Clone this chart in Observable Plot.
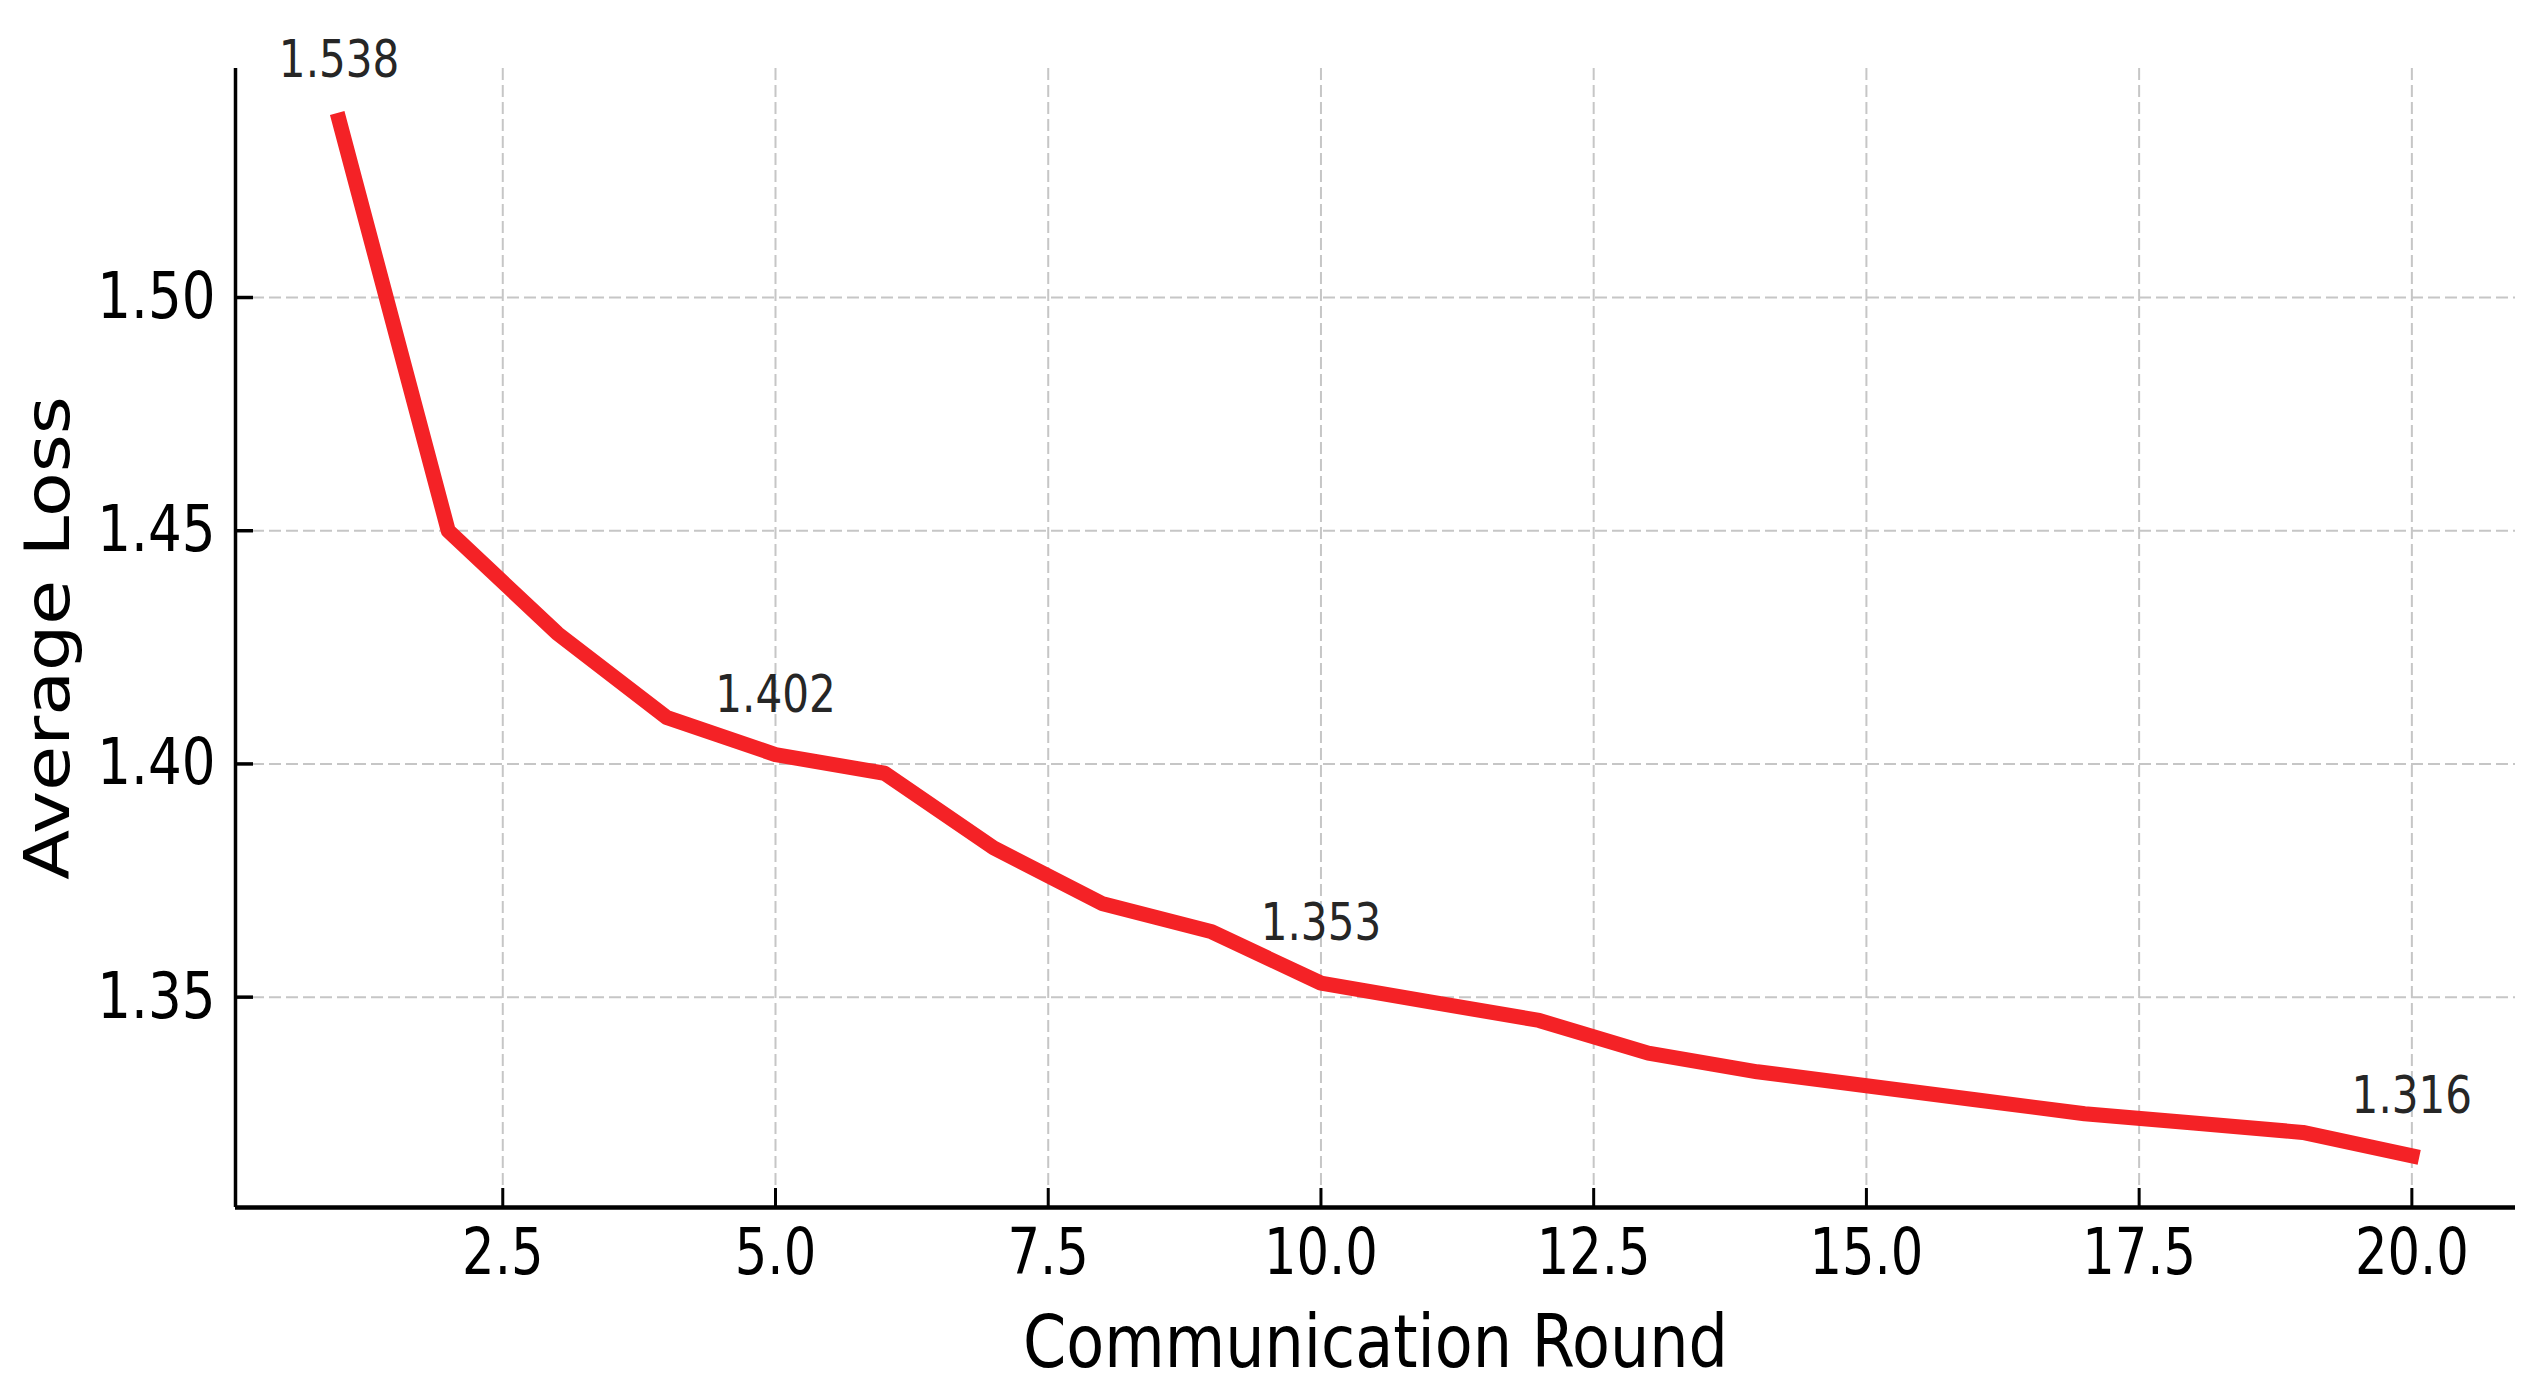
<!DOCTYPE html>
<html>
<head>
<meta charset="utf-8">
<script src="https://cdn.jsdelivr.net/npm/d3@7"></script>
<script src="https://cdn.jsdelivr.net/npm/@observablehq/plot@0.6"></script>
<style>
  html, body { margin: 0; padding: 0; background: #ffffff; }
  svg { display: block; }
</style>
</head>
<body>
<div id="chart"></div>
<script>
// ---- data ----
const rounds = [1, 2, 3, 4, 5, 6, 7, 8, 9, 10, 11, 12, 13, 14, 15, 16, 17, 18, 19, 20];
const avgLoss = [1.538, 1.450, 1.428, 1.410, 1.402, 1.398, 1.382, 1.370, 1.364, 1.353,
                 1.349, 1.345, 1.338, 1.334, 1.331, 1.328, 1.325, 1.323, 1.321, 1.316];
const annotatedRounds = [1, 5, 10, 20];
const xTicks = [2.5, 5.0, 7.5, 10.0, 12.5, 15.0, 17.5, 20.0];
const yTicks = [1.35, 1.40, 1.45, 1.50];
const xLabel = "Communication Round";
const yLabel = "Average Loss";

// ---- build ----
const data = rounds.map((r, i) => ({round: r, loss: avgLoss[i]}));
const annotations = data.filter(d => annotatedRounds.includes(d.round));
const pad = (a, b) => [a - (b - a) * 0.05, b + (b - a) * 0.05];
const xDomain = pad(d3.min(rounds), d3.max(rounds));
const yDomain = pad(d3.min(avgLoss), d3.max(avgLoss));

const W = 2544, H = 1388;
const mL = 235, mR = 29, mT = 68, mB = 181;
const plotW = W - mL - mR, plotH = H - mT - mB;
const gridStyle = {stroke: "#c6c6c6", strokeOpacity: 1, strokeWidth: 2, strokeDasharray: "12,5"};

const chart = Plot.plot({
  width: W, height: H,
  marginLeft: mL, marginRight: mR, marginTop: mT, marginBottom: mB,
  style: {fontFamily: "'DejaVu Sans', sans-serif", background: "#ffffff", color: "#000000", overflow: "visible"},
  x: {domain: xDomain},
  y: {domain: yDomain},
  marks: [
    Plot.gridX(xTicks, gridStyle),
    Plot.gridY(yTicks, gridStyle),
    Plot.line(data, {x: "round", y: "loss", stroke: "#f42226", strokeWidth: 15,
                     strokeLinejoin: "round", strokeLinecap: "square"}),
    Plot.text(annotations, {x: "round", y: "loss", text: d => d.loss.toFixed(3), dy: -43,
                            lineAnchor: "bottom", fontSize: 52, fill: "#262626"}),
    Plot.ruleX([xDomain[0]], {stroke: "#000000", strokeWidth: 3.5}),
    Plot.ruleY([yDomain[0]], {stroke: "#000000", strokeWidth: 4.5}),
    Plot.tickX(xTicks, {x: d => d, stroke: "#000000", strokeWidth: 3, insetTop: plotH - 19}),
    Plot.tickY(yTicks, {y: d => d, stroke: "#000000", strokeWidth: 3.5, insetRight: plotW - 18}),
    Plot.axisX(xTicks, {tickSize: 0, tickPadding: 21, fontSize: 64, tickFormat: d => d.toFixed(1), label: null}),
    Plot.axisY(yTicks, {tickSize: 0, tickPadding: 20, fontSize: 64, tickFormat: d => d.toFixed(2), label: null}),
    Plot.text([xLabel], {frameAnchor: "bottom", text: d => d, dy: 159, lineAnchor: "bottom",
                         textAnchor: "middle", fontSize: 73, fill: "#000000"}),
    Plot.text([yLabel], {frameAnchor: "left", text: d => d, dx: -167, rotate: -90, lineAnchor: "bottom",
                         textAnchor: "middle", fontSize: 63, fill: "#000000"})
  ]
});

document.getElementById("chart").appendChild(chart);

// horizontal squeeze / stretch of text glyphs to match the reference's proportions
const xTickStr = xTicks.map(d => d.toFixed(1));
const yTickStr = yTicks.map(d => d.toFixed(2));
const annStr = annotations.map(d => d.loss.toFixed(3));
d3.select(chart).selectAll("text").each(function () {
  const s = this.textContent.trim();
  let sx = null;
  if (s === xLabel) sx = 0.85;
  else if (s === yLabel) sx = 1.16;
  else if (annStr.includes(s)) sx = 0.81;
  else if (yTickStr.includes(s)) sx = 0.83;
  else if (xTickStr.includes(s)) sx = 0.80;
  if (sx === null) return;
  const t = this.getAttribute("transform") || "";
  this.setAttribute("transform", `${t} scale(${sx},1)`);
});
</script>
</body>
</html>
